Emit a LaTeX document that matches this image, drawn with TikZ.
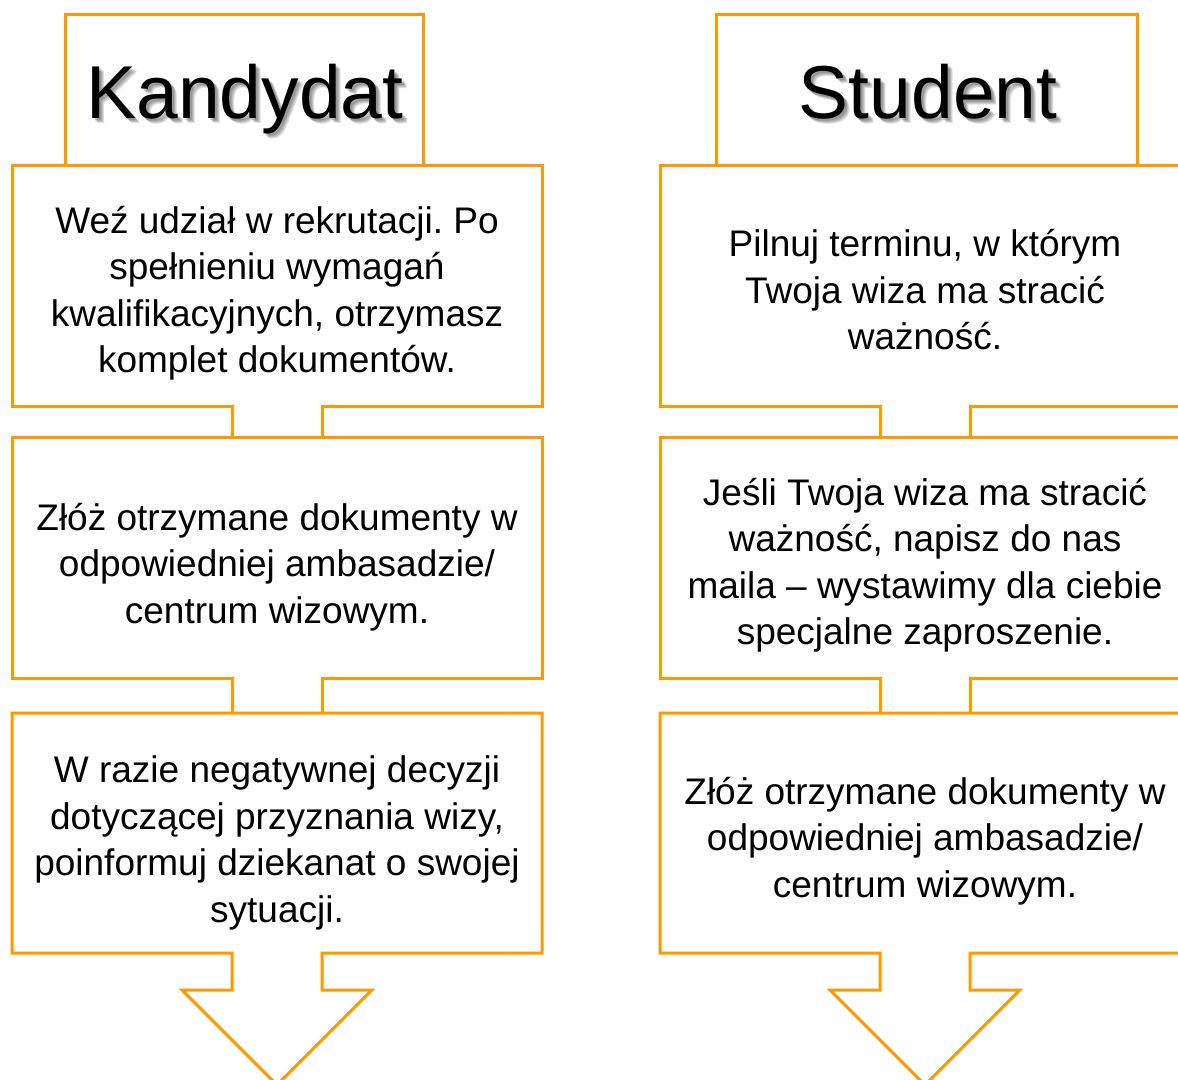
\documentclass[tikz,border=0pt]{standalone}
\usepackage{fontspec}
\setmainfont{Liberation Sans}
\definecolor{orng}{RGB}{255,153,0}
\begin{document}
\frenchspacing
\begin{tikzpicture}[x=1pt,y=-1pt,
  boxshape/.style={draw=orng,fill=white,line width=3pt,line join=miter},
  body/.style={align=center,font=\fontsize{37}{46.5}\selectfont,inner sep=0pt},
  ttl/.style={font=\fontsize{75}{90}\selectfont,inner sep=0pt,anchor=base},
  ttlshadow/.style={ttl,text=black,opacity=0.12}]
\useasboundingbox (0,0) rectangle (1178,1079);
\clip (0,0) rectangle (1178,1079);

% ---------- left column ----------
\draw[boxshape] (65,14) rectangle (423,180);
\draw[boxshape] (232,437) -- (232,406) -- (12,406) -- (12,165) -- (542,165) -- (542,406) -- (322,406) -- (322,437);
\draw[boxshape] (232,713) -- (232,678) -- (12,678) -- (12,437) -- (542,437) -- (542,678) -- (322,678) -- (322,713);
\draw[boxshape] (12,713) -- (542,713) -- (542,953) -- (322,953) -- (322,990) -- (372,990) -- (277,1085) -- (182,990) -- (232,990) -- (232,953) -- (12,953) -- cycle;

% ---------- right column ----------
\draw[boxshape] (716,14) rectangle (1137,180);
\begin{scope}[xshift=648]
\draw[boxshape] (232,437) -- (232,406) -- (12,406) -- (12,165) -- (542,165) -- (542,406) -- (322,406) -- (322,437);
\draw[boxshape] (232,713) -- (232,678) -- (12,678) -- (12,437) -- (542,437) -- (542,678) -- (322,678) -- (322,713);
\draw[boxshape] (12,713) -- (542,713) -- (542,953) -- (322,953) -- (322,990) -- (372,990) -- (277,1085) -- (182,990) -- (232,990) -- (232,953) -- (12,953) -- cycle;
\end{scope}

% ---------- titles (with soft shadow) ----------
\foreach \d in {2,3,4,5}{
  \node[ttlshadow] at (245+\d,118+\d) {Kandydat};
  \node[ttlshadow] at (928+\d,118+\d) {Student};
}
\node[ttl] (kand) at (245,118) {Kandydat};
\node[ttl] (stud) at (928,118) {Student};

% ---------- texts ----------
\node[body] (l1) at (277,293) {Weź udział w rekrutacji. Po\\spełnieniu wymagań\\kwalifikacyjnych, otrzymasz\\komplet dokumentów.};
\node[body] (l2) at (277,567) {Złóż otrzymane dokumenty w\\odpowiedniej ambasadzie/\\centrum wizowym.};
\node[body] (l3) at (277,843) {W razie negatywnej decyzji\\dotyczącej przyznania wizy,\\poinformuj dziekanat o swojej\\sytuacji.};
\node[body] (r1) at (925,290) {Pilnuj terminu, w którym\\Twoja wiza ma stracić\\ważność.};
\node[body] (r2) at (925,565) {Jeśli Twoja wiza ma stracić\\ważność, napisz do nas\\maila – wystawimy dla ciebie\\specjalne zaproszenie.};
\node[body] (r3) at (925,841) {Złóż otrzymane dokumenty w\\odpowiedniej ambasadzie/\\centrum wizowym.};
\end{tikzpicture}
\end{document}
